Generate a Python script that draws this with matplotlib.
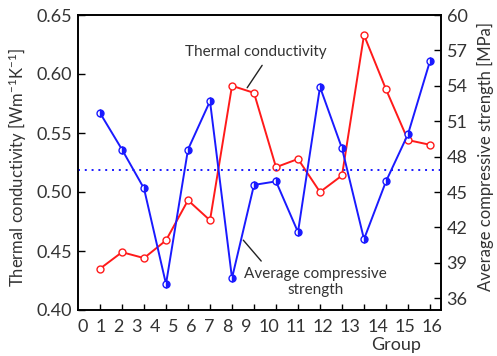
import numpy as np
import matplotlib
matplotlib.use('Agg')
import matplotlib.pyplot as plt

plt.rcParams['font.family'] = ['Lato', 'DejaVu Sans']
plt.rcParams['mathtext.fontset'] = 'custom'
plt.rcParams['mathtext.rm'] = 'Lato'
plt.rcParams['mathtext.default'] = 'rm'

groups = np.arange(1, 17)
thermal = [0.435, 0.449, 0.444, 0.459, 0.493, 0.476, 0.590, 0.584,
           0.521, 0.528, 0.500, 0.514, 0.633, 0.587, 0.544, 0.540]
strength = [51.7, 48.6, 45.3, 37.2, 48.6, 52.7, 37.7, 45.6,
            45.9, 41.6, 53.9, 48.7, 41.0, 45.9, 49.9, 56.1]
avg_strength = 46.9
x_labels = [str(i) for i in range(17)]
left_ticks = [0.40, 0.45, 0.50, 0.55, 0.60, 0.65]
right_ticks = [36, 39, 42, 45, 48, 51, 54, 57, 60]

txt = '#333333'
red = '#ff1a1a'
blue = '#1a1aff'

fig = plt.figure(figsize=(4.97, 3.56), dpi=100)
ax = fig.add_axes([78 / 497, 1 - 310 / 356, 363 / 497, 295 / 356])
ax2 = ax.twinx()

ax.plot(groups, thermal, color=red, lw=1.4, marker='o', ms=5,
        mfc='white', mec=red, mew=1.0, zorder=3)
ax2.plot(groups, strength, color=blue, lw=1.4, marker='o', ms=5,
         fillstyle='right', mfc=blue, mfcalt='white', mec=blue, mew=1.0, zorder=3)
ax2.axhline(avg_strength, color=blue, lw=1.4, ls=(0, (1, 2.5)))

ax.set_xlim(0, 16.5)
ax.set_ylim(0.40, 0.65)
ax2.set_ylim(35, 60)

ax.set_yticks(left_ticks)
ax.set_yticklabels([f'{v:.2f}' for v in left_ticks])
ax2.set_yticks(right_ticks)

ax.set_xticks(groups)
ax.set_xticklabels([])
ax.tick_params(axis='x', direction='in', length=4, width=1, color='black')
ax.tick_params(axis='y', direction='in', length=5, width=1, labelsize=13,
               labelcolor=txt, pad=4)
ax2.tick_params(axis='y', direction='in', length=5, width=1, labelsize=13,
                labelcolor=txt, pad=4)
ax2.tick_params(axis='x', length=0)

# x labels are packed like a text string, not aligned with the tick marks
pos = 0.2
prev_w = 0
for i, lab in enumerate(x_labels):
    w = 0.415 * len(lab)
    if i > 0:
        pos += prev_w / 2 + 0.41 + w / 2
    prev_w = w
    ax.annotate(lab, xy=(pos, 0), xycoords=('data', 'axes fraction'),
                xytext=(0, -12), textcoords='offset points',
                ha='center', va='center', fontsize=13, color=txt)

for a in (ax, ax2):
    for s in a.spines.values():
        s.set_linewidth(1.2)

ax.set_ylabel('Thermal conductivity [Wm$^{-1}$K$^{-1}$]', fontsize=12, color=txt)
ax.yaxis.set_label_coords(-0.135, 0.485)
ax2.set_ylabel('Average compressive strength [MPa]', fontsize=12, color=txt)
ax2.yaxis.set_label_coords(1.1, 0.522)
ax.set_xlabel('Group', fontsize=13, color=txt)
ax.xaxis.set_label_coords((396 - 78) / 363, -0.09)

ax.text(8.08, 0.6186, 'Thermal conductivity', fontsize=11, color=txt,
        ha='center', va='center')
ax.annotate('', xy=(7.62, 0.5864), xytext=(8.44, 0.6093),
            arrowprops=dict(arrowstyle='-', color='#222222', lw=1))
ax.text(10.81, 0.4237, 'Average compressive\nstrength', fontsize=11,
        color=txt, ha='center', va='center', linespacing=1.1)
ax.annotate('', xy=(7.43, 0.461), xytext=(8.41, 0.4397),
            arrowprops=dict(arrowstyle='-', color='#222222', lw=1))

fig.savefig('out.png', dpi=100)
